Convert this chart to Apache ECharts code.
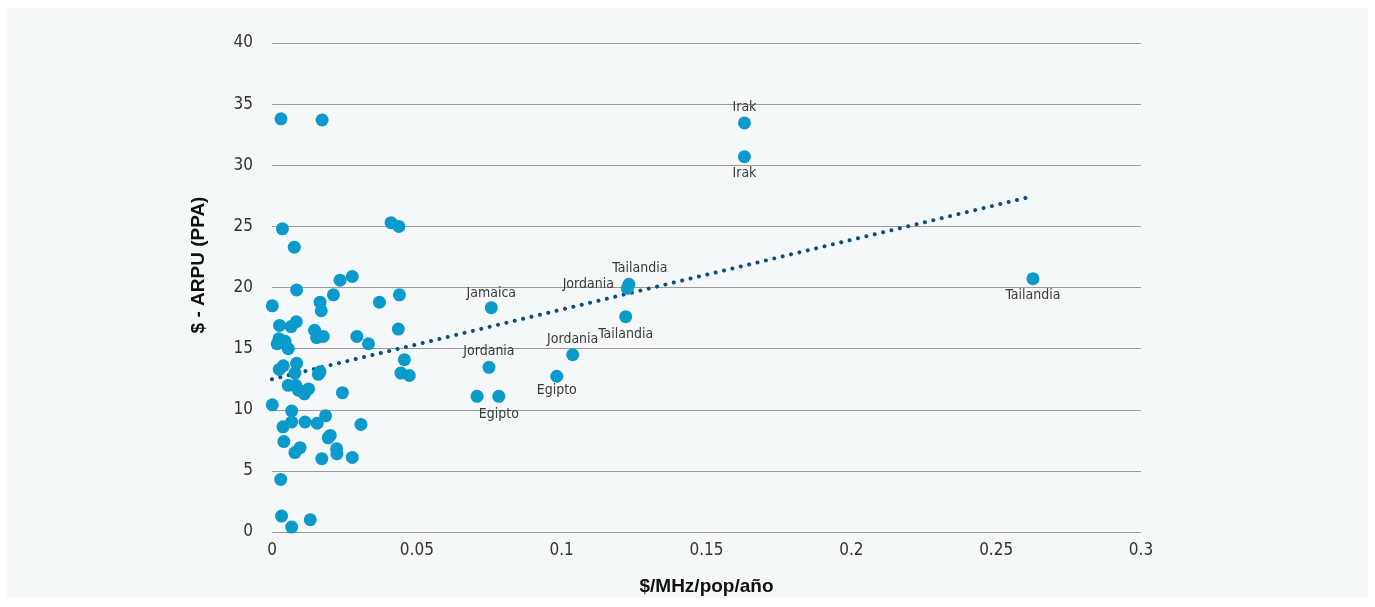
<!DOCTYPE html>
<html>
<head>
<meta charset="utf-8">
<script src="https://cdn.jsdelivr.net/npm/echarts@6/dist/echarts.min.js"></script>
<style>
html,body{margin:0;padding:0;background:#ffffff;}
#chart{width:1375px;height:607px;}
</style>
</head>
<body>
<div id="chart"></div>
<script>
// ---- data ----
const xTicks = [0, 0.05, 0.1, 0.15, 0.2, 0.25, 0.3];
const yTicks = [0, 5, 10, 15, 20, 25, 30, 35, 40];

const clusterX = [
  0.0031, 0.0173, 0.0036, 0.0077, 0.0411, 0.0438, 0.0085, 0.0277, 0.0235, 0.0212,
  0.0440, 0.0001, 0.0166, 0.0170, 0.0371, 0.0026, 0.0066, 0.0084, 0.0147, 0.0436,
  0.0154, 0.0177, 0.0293, 0.0024, 0.0045, 0.0018, 0.0056, 0.0333, 0.0457, 0.0445,
  0.0474, 0.0085, 0.0039, 0.0025, 0.0079, 0.0166, 0.0160, 0.0056, 0.0082, 0.0091,
  0.0112, 0.0126, 0.0243, 0.0001, 0.0068, 0.0185, 0.0307, 0.0068, 0.0114, 0.0156,
  0.0038, 0.0194, 0.0201, 0.0041, 0.0079, 0.0097, 0.0223, 0.0224, 0.0172, 0.0277,
  0.0030, 0.0033, 0.0068, 0.0132
];
const clusterY = [
  33.8, 33.7, 24.8, 23.3, 25.3, 25.0, 19.8, 20.9, 20.6, 19.4,
  19.4, 18.5, 18.8, 18.1, 18.8, 16.9, 16.8, 17.2, 16.5, 16.6,
  15.9, 16.0, 16.0, 15.8, 15.6, 15.4, 15.0, 15.4, 14.1, 13.0,
  12.8, 13.8, 13.6, 13.3, 13.0, 13.1, 12.9, 12.0, 12.0, 11.6,
  11.3, 11.7, 11.4, 10.4, 9.9, 9.5, 8.8, 9.0, 9.0, 8.9,
  8.6, 7.7, 7.9, 7.4, 6.5, 6.9, 6.8, 6.4, 6.0, 6.1,
  4.3, 1.3, 0.4, 1.0
];

const namedX = [0.1631, 0.1631, 0.2627, 0.1232, 0.1227, 0.1221, 0.0757, 0.1038, 0.0749, 0.0983, 0.0783, 0.0708];
const namedY = [33.46, 30.70, 20.72, 20.26, 19.93, 17.61, 18.35, 14.50, 13.47, 12.74, 11.10, 11.10];
const namedLabels = ['Irak', 'Irak', 'Tailandia', 'Tailandia', 'Jordania', 'Tailandia', 'Jamaica', 'Jordania', 'Jordania', 'Egipto', 'Egipto', ''];

const trendX = [0, 0.2624];
const trendY = [12.5, 27.45];

const xTitle = '$/MHz/pop/año';
const yTitle = '$ - ARPU (PPA)';

// ---- styles ----
const labelPlacement = [
  {position: 'top', distance: 2},
  {position: 'bottom', distance: 3},
  {position: 'bottom', distance: 3},
  {position: 'top', distance: 2, offset: [11, 0]},
  {position: 'left', distance: 7, offset: [0, -4]},
  {position: 'bottom', distance: 4},
  {position: 'top', distance: 1},
  {position: 'top', distance: 2},
  {position: 'top', distance: 2},
  {position: 'bottom', distance: 1},
  {position: 'bottom', distance: 5},
  {position: 'top', distance: 1}
];

const dotColor = '#0a9bcc';
const narrowFont = "'DejaVu Sans Condensed', 'Liberation Sans Narrow', sans-serif";

const chart = echarts.init(document.getElementById('chart'), null, {renderer: 'canvas'});

const clusterData = clusterX.map((x, i) => [x, clusterY[i]]);
const namedData = namedX.map((x, i) => ({
  value: [x, namedY[i]],
  label: Object.assign({show: namedLabels[i] !== '', formatter: namedLabels[i]}, labelPlacement[i])
}));
const trendData = trendX.map((x, i) => [x, trendY[i]]);

chart.setOption({
  backgroundColor: '#ffffff',
  animation: false,
  graphic: [
    {type: 'rect', shape: {x: 7, y: 8, width: 1361, height: 590}, style: {fill: '#f4f8f9'}, z: -10, silent: true},
    {type: 'text', x: 199, y: 265, rotation: Math.PI / 2,
     style: {text: yTitle, font: "bold 19px 'Liberation Sans', sans-serif", fill: '#111', align: 'center', verticalAlign: 'middle'}}
  ],
  grid: {left: 272, right: 234, top: 43, bottom: 75, containLabel: false},
  xAxis: {
    type: 'value', min: xTicks[0], max: xTicks[xTicks.length - 1], interval: 0.05,
    axisLine: {show: false}, axisTick: {show: false}, splitLine: {show: false},
    axisLabel: {color: '#333', fontFamily: narrowFont, fontSize: 17, margin: 10},
    name: xTitle, nameLocation: 'middle', nameGap: 45,
    nameTextStyle: {fontFamily: "'Liberation Sans', sans-serif", fontWeight: 'bold', fontSize: 19, color: '#111'}
  },
  yAxis: {
    type: 'value', min: yTicks[0], max: yTicks[yTicks.length - 1], interval: 5,
    axisLine: {show: false}, axisTick: {show: false},
    splitLine: {show: true, lineStyle: {color: '#9a9a9a', width: 1.2}},
    axisLabel: {color: '#333', fontFamily: narrowFont, fontSize: 17, margin: 19}
  },
  series: [
    {
      type: 'line', data: trendData, symbol: 'none', z: 2,
      lineStyle: {color: '#0b4e80', width: 4, type: [0.01, 8.6], cap: 'round'}
    },
    {
      type: 'scatter', data: clusterData, symbolSize: 13, z: 3,
      itemStyle: {color: dotColor, opacity: 1}
    },
    {
      type: 'scatter', data: namedData, symbolSize: 13, z: 4,
      itemStyle: {color: dotColor, opacity: 1},
      label: {color: '#3a3a3a', fontFamily: narrowFont, fontSize: 14}
    }
  ]
});
</script>
</body>
</html>
